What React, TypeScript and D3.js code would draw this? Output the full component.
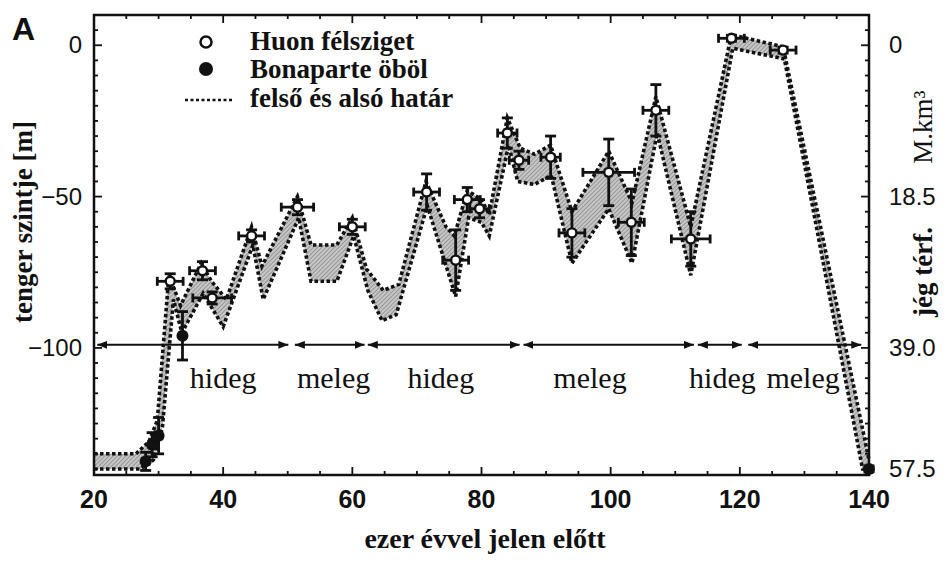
import React from "react";
import * as d3 from "d3";

// upper and lower limit of the sea-level band: [ezer év, m]
const upperBound: [number, number][] = [
  [20, -135], [26.5, -135], [28.5, -131], [29.8, -124], [31.6, -76], [33.4, -86],
  [36.6, -72], [38.2, -78], [40.5, -84], [44.4, -60], [46, -73], [51.5, -50],
  [53.6, -66], [57.6, -66], [60, -57], [62.2, -74], [64.8, -81], [67.2, -79],
  [71.4, -45], [74.5, -60], [75.8, -63], [77.8, -48], [80, -51], [81.2, -56],
  [84, -24], [86, -34], [88.2, -36], [90.7, -33], [94, -55], [99.7, -35],
  [103.3, -52], [107, -17], [112.4, -60], [118.7, 3.5], [126.7, -0.5], [140, -137],
];

const lowerBound: [number, number][] = [
  [20, -140], [27.2, -140], [29.2, -137], [30.6, -126], [32.3, -84], [33.6, -95],
  [36.9, -82], [40, -93], [44.6, -66], [46.2, -84], [51.7, -57], [53.6, -78],
  [57.6, -78], [60.2, -63], [62.4, -81], [64.6, -91], [66.8, -89], [71.6, -53],
  [76, -83], [78, -57], [80, -58.5], [81.2, -63], [84.2, -33], [85.6, -45],
  [88.2, -46], [90.8, -43], [94, -72], [99.7, -54], [103.3, -72], [107.2, -29],
  [112.4, -76], [118.9, -1], [126.9, -4.5], [139, -140], [140, -140],
];

const huon = [
  { age: 31.8, level: -78, dAge: 2, dLevel: 2.5 },
  { age: 36.8, level: -74.5, dAge: 2, dLevel: 3 },
  { age: 38.3, level: -83.5, dAge: 3, dLevel: 2 },
  { age: 44.4, level: -63, dAge: 2, dLevel: 2 },
  { age: 51.5, level: -53.5, dAge: 2.5, dLevel: 2.5 },
  { age: 60, level: -60, dAge: 2, dLevel: 2.5 },
  { age: 71.5, level: -48.5, dAge: 2, dLevel: 6 },
  { age: 76, level: -71, dAge: 2, dLevel: 10 },
  { age: 77.8, level: -51, dAge: 2, dLevel: 4 },
  { age: 79.7, level: -54, dAge: 1.5, dLevel: 3 },
  { age: 84, level: -29, dAge: 1.5, dLevel: 5 },
  { age: 85.8, level: -38, dAge: 1.5, dLevel: 3 },
  { age: 90.7, level: -37, dAge: 1.5, dLevel: 7 },
  { age: 94, level: -62, dAge: 2, dLevel: 8 },
  { age: 99.7, level: -42, dAge: 4, dLevel: 11 },
  { age: 103.2, level: -58.5, dAge: 2, dLevel: 11 },
  { age: 107, level: -21.5, dAge: 2, dLevel: 8.5 },
  { age: 112.4, level: -64, dAge: 3, dLevel: 9 },
  { age: 118.7, level: 2.3, dAge: 2, dLevel: 1 },
  { age: 126.7, level: -1.6, dAge: 2, dLevel: 1 },
];

const bonaparte = [
  { age: 28, level: -137.5, dAge: 0.5, dLevel: 3 },
  { age: 29, level: -132, dAge: 0.5, dLevel: 4 },
  { age: 30, level: -129, dAge: 0.5, dLevel: 6 },
  { age: 33.7, level: -96, dAge: 0, dLevel: 8 },
  { age: 140, level: -140, dAge: 0, dLevel: 1 },
];

const periods = [
  { from: 20.5, to: 50.1, labelAt: 40, label: "hideg" },
  { from: 51.1, to: 61.9, labelAt: 57.1, label: "meleg" },
  { from: 62.4, to: 85.9, labelAt: 73.7, label: "hideg" },
  { from: 86.5, to: 112.9, labelAt: 96.8, label: "meleg" },
  { from: 113.5, to: 120.3, labelAt: 117.3, label: "hideg" },
  { from: 121.3, to: 138.8, labelAt: 129.8, label: "meleg" },
];
const periodLevel = -99;

const xTicks = [20, 40, 60, 80, 100, 120, 140];
const yTicks = [0, -50, -100];
const iceTicks = [
  { level: 0, label: "0" },
  { level: -50, label: "18.5" },
  { level: -100, label: "39.0" },
  { level: -140, label: "57.5" },
];

const W = 947;
const H = 562;
const left = 94, right = 869, top = 15, bottom = 475;

const x = d3.scaleLinear().domain([20, 140]).range([left, right]);
const y = d3.scaleLinear().domain([-142, 10]).range([bottom, top]);

const serif = "'Liberation Serif', 'Times New Roman', serif";
const sans = "'Liberation Sans', Arial, sans-serif";
const dotted = { stroke: "#111", strokeWidth: 3.6, strokeDasharray: "3.5 2.5", fill: "none" };

function errorBars(d: any, key: string) {
  const cx = x(d.age), cy = y(d.level);
  return (
    <g key={key} stroke="#111" strokeWidth={2.8}>
      {d.dAge > 0 && (
        <g>
          <line x1={x(d.age - d.dAge)} x2={x(d.age + d.dAge)} y1={cy} y2={cy} />
          <line x1={x(d.age - d.dAge)} x2={x(d.age - d.dAge)} y1={cy - 4.5} y2={cy + 4.5} />
          <line x1={x(d.age + d.dAge)} x2={x(d.age + d.dAge)} y1={cy - 4.5} y2={cy + 4.5} />
        </g>
      )}
      <line x1={cx} x2={cx} y1={y(d.level + d.dLevel)} y2={y(d.level - d.dLevel)} />
      <line x1={cx - 5.5} x2={cx + 5.5} y1={y(d.level + d.dLevel)} y2={y(d.level + d.dLevel)} />
      <line x1={cx - 5.5} x2={cx + 5.5} y1={y(d.level - d.dLevel)} y2={y(d.level - d.dLevel)} />
    </g>
  );
}

export default function App() {
  const line = d3.line<[number, number]>().x((d) => x(d[0])).y((d) => y(d[1]));
  const bandPath = line([...upperBound, ...lowerBound.slice().reverse()]) + "Z";

  const minorX = d3.range(20, 141, 5);
  const minorY = d3.range(-140, 11, 5);

  return (
    <svg width={W} height={H} style={{ position: "absolute", left: 0, top: 0, background: "#fff" }}>
      <defs>
        <pattern id="hatch" width="3" height="3" patternUnits="userSpaceOnUse" patternTransform="rotate(45)">
          <rect width="3" height="3" fill="#c6c6c6" />
          <line x1="0" y1="0" x2="0" y2="3" stroke="#777" strokeWidth="1.2" />
        </pattern>
        <marker id="ahead" viewBox="0 0 10 8" refX="10" refY="4" markerWidth="10" markerHeight="8"
          markerUnits="userSpaceOnUse" orient="auto-start-reverse">
          <path d="M0,0 L10,4 L0,8 Z" fill="#111" />
        </marker>
      </defs>

      {/* band */}
      <path d={bandPath} fill="url(#hatch)" stroke="none" />
      <path d={line(upperBound) || ""} {...dotted} />
      <path d={line(lowerBound) || ""} {...dotted} />

      {/* periods */}
      {periods.map((p, i) => (
        <g key={"p" + i}>
          <line x1={x(p.from)} x2={x(p.to)} y1={y(periodLevel)} y2={y(periodLevel)}
            stroke="#111" strokeWidth={2} markerStart="url(#ahead)" markerEnd="url(#ahead)" />
          <text x={x(p.labelAt)} y={388} textAnchor="middle" fontFamily={serif} fontSize={30} fill="#111">
            {p.label}
          </text>
        </g>
      ))}

      {/* data */}
      {huon.map((d, i) => errorBars(d, "he" + i))}
      {bonaparte.map((d, i) => errorBars(d, "be" + i))}
      {huon.map((d, i) => (
        <circle key={"h" + i} cx={x(d.age)} cy={y(d.level)} r={4.5} fill="#fff" stroke="#111" strokeWidth={2.4} />
      ))}
      {bonaparte.map((d, i) => (
        <circle key={"b" + i} cx={x(d.age)} cy={y(d.level)} r={6} fill="#111" />
      ))}

      {/* frame and ticks */}
      <rect x={left} y={top} width={right - left} height={bottom - top} fill="none" stroke="#111" strokeWidth={2.5} />
      <g stroke="#111" strokeWidth={1.8}>
        {minorX.map((t) => {
          const len = xTicks.includes(t) ? 8 : 4;
          return (
            <g key={"tx" + t}>
              <line x1={x(t)} x2={x(t)} y1={bottom} y2={bottom - len} />
              <line x1={x(t)} x2={x(t)} y1={top} y2={top + len} />
            </g>
          );
        })}
        {minorY.map((t) => {
          const len = yTicks.includes(t) ? 8 : 4;
          return (
            <g key={"ty" + t}>
              <line x1={left} x2={left + len} y1={y(t)} y2={y(t)} />
              <line x1={right} x2={right - len} y1={y(t)} y2={y(t)} />
            </g>
          );
        })}
      </g>

      {/* tick labels */}
      {xTicks.map((t) => (
        <text key={"lx" + t} x={x(t)} y={508} textAnchor="middle" fontFamily={sans} fontWeight="bold" fontSize={25} fill="#111">
          {t}
        </text>
      ))}
      {yTicks.map((t) => (
        <text key={"ly" + t} x={82} y={y(t) + 8} textAnchor="end" fontFamily={sans} fontSize={24} fill="#111">
          {t === 0 ? "0" : "\u2212" + Math.abs(t)}
        </text>
      ))}
      {iceTicks.map((t) => (
        <text key={"li" + t.label} x={889} y={y(t.level) + 8} textAnchor="start" fontFamily={sans} fontSize={24} fill="#111">
          {t.label}
        </text>
      ))}

      {/* axis titles */}
      <text x={485} y={548} textAnchor="middle" fontFamily={serif} fontWeight="bold" fontSize={28} fill="#111">
        ezer évvel jelen előtt
      </text>
      <text transform="translate(32,323) rotate(-90)" textAnchor="start" fontFamily={serif} fontWeight="bold" fontSize={27} fill="#111">
        tenger szintje [m]
      </text>
      <text transform="translate(932,127) rotate(-90)" textAnchor="middle" fontFamily={serif} fontSize={27} fill="#111">
        M.km³
      </text>
      <text transform="translate(932,272) rotate(-90)" textAnchor="middle" fontFamily={serif} fontWeight="bold" fontSize={27} fill="#111">
        jég térf.
      </text>
      <text x={12} y={40} fontFamily={sans} fontWeight="bold" fontSize={32} fill="#111">A</text>

      {/* legend */}
      <circle cx={206} cy={42} r={5.5} fill="#fff" stroke="#111" strokeWidth={2.5} />
      <text x={250} y={50} fontFamily={serif} fontWeight="bold" fontSize={27} fill="#111">Huon félsziget</text>
      <circle cx={206} cy={69} r={7} fill="#111" />
      <text x={250} y={78} fontFamily={serif} fontWeight="bold" fontSize={27} fill="#111">Bonaparte öböl</text>
      <line x1={185} x2={232} y1={100} y2={100} stroke="#111" strokeWidth={2.5} strokeDasharray="3 2.5" />
      <text x={250} y={107} fontFamily={serif} fontWeight="bold" fontSize={27} fill="#111">felső és alsó határ</text>
    </svg>
  );
}
